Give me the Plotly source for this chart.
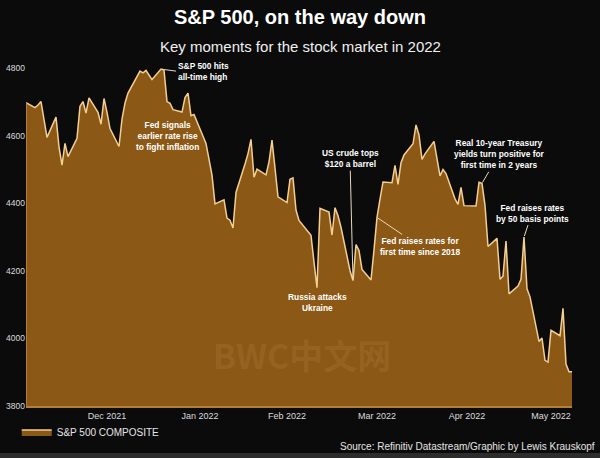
import plotly.graph_objects as go

# ---- data (S&P 500 COMPOSITE, daily) ----
dates = [
    "2021-11-19", "2021-11-22", "2021-11-23", "2021-11-24", "2021-11-26", "2021-11-29", "2021-11-30",
    "2021-12-01", "2021-12-02", "2021-12-03", "2021-12-06", "2021-12-07", "2021-12-08", "2021-12-09",
    "2021-12-10", "2021-12-13", "2021-12-14", "2021-12-15", "2021-12-16", "2021-12-17", "2021-12-20",
    "2021-12-21", "2021-12-22", "2021-12-23", "2021-12-27", "2021-12-28", "2021-12-29", "2021-12-30",
    "2021-12-31",
    "2022-01-03", "2022-01-04", "2022-01-05", "2022-01-06", "2022-01-07", "2022-01-10", "2022-01-11",
    "2022-01-12", "2022-01-13", "2022-01-14", "2022-01-18", "2022-01-19", "2022-01-20", "2022-01-21",
    "2022-01-24", "2022-01-25", "2022-01-26", "2022-01-27", "2022-01-28", "2022-01-31",
    "2022-02-01", "2022-02-02", "2022-02-03", "2022-02-04", "2022-02-07", "2022-02-08", "2022-02-09",
    "2022-02-10", "2022-02-11", "2022-02-14", "2022-02-15", "2022-02-16", "2022-02-17", "2022-02-18",
    "2022-02-22", "2022-02-23", "2022-02-24", "2022-02-25", "2022-02-28",
    "2022-03-01", "2022-03-02", "2022-03-03", "2022-03-04", "2022-03-07", "2022-03-08", "2022-03-09",
    "2022-03-10", "2022-03-11", "2022-03-14", "2022-03-15", "2022-03-16", "2022-03-17", "2022-03-18",
    "2022-03-21", "2022-03-22", "2022-03-23", "2022-03-24", "2022-03-25", "2022-03-28", "2022-03-29",
    "2022-03-30", "2022-03-31",
    "2022-04-01", "2022-04-04", "2022-04-05", "2022-04-06", "2022-04-07", "2022-04-08", "2022-04-11",
    "2022-04-12", "2022-04-13", "2022-04-14", "2022-04-18", "2022-04-19", "2022-04-20", "2022-04-21",
    "2022-04-22", "2022-04-25", "2022-04-26", "2022-04-27", "2022-04-28", "2022-04-29",
    "2022-05-02", "2022-05-03", "2022-05-04", "2022-05-05", "2022-05-06", "2022-05-09", "2022-05-10",
    "2022-05-11", "2022-05-12", "2022-05-13", "2022-05-16", "2022-05-17", "2022-05-18", "2022-05-19",
    "2022-05-20",
]
values = [
    4698, 4683, 4691, 4701, 4595, 4655, 4567,
    4513, 4577, 4538, 4592, 4687, 4701, 4667,
    4712, 4669, 4634, 4710, 4669, 4621, 4568,
    4649, 4697, 4726, 4791, 4786, 4793, 4779,
    4766,
    4797, 4794, 4701, 4696, 4677, 4670, 4713,
    4726, 4659, 4663, 4577, 4533, 4483, 4398,
    4410, 4356, 4350, 4327, 4432, 4516,
    4547, 4589, 4477, 4501, 4484, 4522, 4587,
    4504, 4419, 4402, 4471, 4475, 4380, 4349,
    4305, 4226, 4150, 4385, 4374,
    4306, 4387, 4363, 4329, 4201, 4171, 4278,
    4260, 4204, 4173, 4262, 4358, 4412, 4463,
    4461, 4512, 4456, 4520, 4543, 4576, 4632,
    4602, 4530,
    4546, 4583, 4525, 4481, 4500, 4488, 4413,
    4397, 4447, 4393, 4392, 4462, 4459, 4394,
    4272, 4296, 4175, 4184, 4288, 4132,
    4155, 4175, 4300, 4147, 4123, 3991, 4001,
    3935, 3930, 4024, 4008, 4089, 3924, 3901,
    3901,
]

y_ticks = [3800, 4000, 4200, 4400, 4600, 4800]
x_tick_dates = ["2021-12-16", "2022-01-16", "2022-02-14", "2022-03-16", "2022-04-15", "2022-05-13"]
x_tick_labels = ["Dec 2021", "Jan 2022", "Feb 2022", "Mar 2022", "Apr 2022", "May 2022"]

# key moments: (date, label, ax, ay, xanchor, align)
events = [
    ("2022-01-03", "<b>S&P 500 hits<br>all-time high</b>", 15, 2, "left", "left"),
    ("2022-03-08", "<b>US crude tops<br>$120 a barrel</b>", -3, -122, "center", "center"),
    ("2022-03-16", "<b>Fed raises rates for<br>first time since 2018</b>", 43, 29, "center", "center"),
    ("2022-04-20", "<b>Real 10-year Treasury<br>yields turn positive for<br>first time in 2 years</b>", 17, -29, "center", "center"),
    ("2022-05-04", "<b>Fed raises rates<br>by 50 basis points</b>", 8, -24, "center", "center"),
]
value_by_date = dict(zip(dates, values))

BG = "#0b0b0b"
FILL = "#8b5815"
LINE = "#f3cf92"
EDGE = "#b3803c"
FONT = "Liberation Sans, Arial, sans-serif"
NOTE = 8.4

fig = go.Figure()
fig.add_trace(go.Scatter(
    x=dates, y=values, mode="lines", fill="tozeroy",
    fillcolor=FILL, line=dict(color=LINE, width=1.5),
    name="S&P 500 COMPOSITE", hoverinfo="skip",
))

fig.update_layout(
    width=600, height=458,
    margin=dict(l=26, r=28, t=60, b=52, autoexpand=False),
    paper_bgcolor=BG, plot_bgcolor=BG,
    font=dict(family=FONT, color="#e6e6e6"),
    title=dict(text="<b>S&P 500, on the way down</b>", x=0.5, xref="container",
               y=1 - 17 / 458, yanchor="middle",
               font=dict(size=20, color="#ffffff", family=FONT)),
    showlegend=True,
    legend=dict(orientation="h", x=-0.017, xanchor="left", y=-0.033, yanchor="top",
                font=dict(size=10, color="#e6e6e6"), bgcolor="rgba(0,0,0,0)"),
    xaxis=dict(type="date", range=[dates[0], dates[-1]], showgrid=False, zeroline=False,
               automargin=False,
               tickvals=x_tick_dates, ticktext=x_tick_labels, ticks="",
               tickfont=dict(size=9, color="#dcdcdc"),
               showline=True, linecolor=EDGE, linewidth=2),
    yaxis=dict(range=[3800, 4824], showgrid=False, zeroline=False, automargin=False,
               tickvals=y_ticks, ticks="", tickfont=dict(size=8.5, color="#dcdcdc")),
)

annotations = [
    dict(text="Key moments for the stock market in 2022", xref="paper", yref="paper",
         x=(300 - 26) / 546, y=(406 - 46) / 346, showarrow=False, xanchor="center", yanchor="middle",
         font=dict(size=15, color="#f0f0f0")),
    dict(text="Source: Refinitiv Datastream/Graphic by Lewis Krauskopf", xref="paper", yref="paper",
         x=(597 - 26) / 546, y=(406 - 446) / 346, showarrow=False, xanchor="right", yanchor="middle",
         font=dict(size=10, color="#e6e6e6")),
    dict(text="<b>BWC中文网</b>", xref="paper", yref="paper",
         x=(302 - 26) / 546, y=(406 - 354) / 346, showarrow=False, xanchor="center", yanchor="middle",
         font=dict(size=34, color="rgba(255,215,150,0.10)", family="Noto Sans CJK SC")),
    dict(text="<b>Fed signals<br>earlier rate rise<br>to fight inflation</b>", xref="x", yref="y",
         x="2022-01-05", y=4600, showarrow=False, xanchor="center", yanchor="middle",
         font=dict(size=NOTE, color="#ffffff")),
    dict(text="<b>Russia attacks<br>Ukraine</b>", xref="x", yref="y",
         x="2022-02-24", y=4105, showarrow=False, xanchor="center", yanchor="middle",
         font=dict(size=NOTE, color="#ffffff")),
]
for d, txt, ax, ay, xa, al in events:
    annotations.append(dict(
        text=txt, x=d, y=value_by_date[d], xref="x", yref="y",
        showarrow=True, arrowhead=0, arrowwidth=1, arrowcolor="#e8d8c0",
        ax=ax, ay=ay, xanchor=xa, align=al, standoff=1,
        font=dict(size=NOTE, color="#ffffff"),
    ))
fig.update_layout(annotations=annotations)

# left edge of the area (ties the fill outline down to the axis)
fig.add_shape(type="line", xref="x", yref="y", x0=dates[0], x1=dates[0],
              y0=y_ticks[0], y1=values[0], line=dict(color=EDGE, width=2))
# grey strip along the bottom of the image
fig.add_shape(type="rect", xref="paper", yref="paper", x0=-0.1, x1=1.1,
              y0=(406 - 462) / 346, y1=(406 - 453) / 346,
              line=dict(width=0), fillcolor="#2c2c2c", layer="below")

fig.write_html("out.html", config={"displayModeBar": False},
               post_script="document.body.style.margin='0';document.body.style.overflow='hidden';")
